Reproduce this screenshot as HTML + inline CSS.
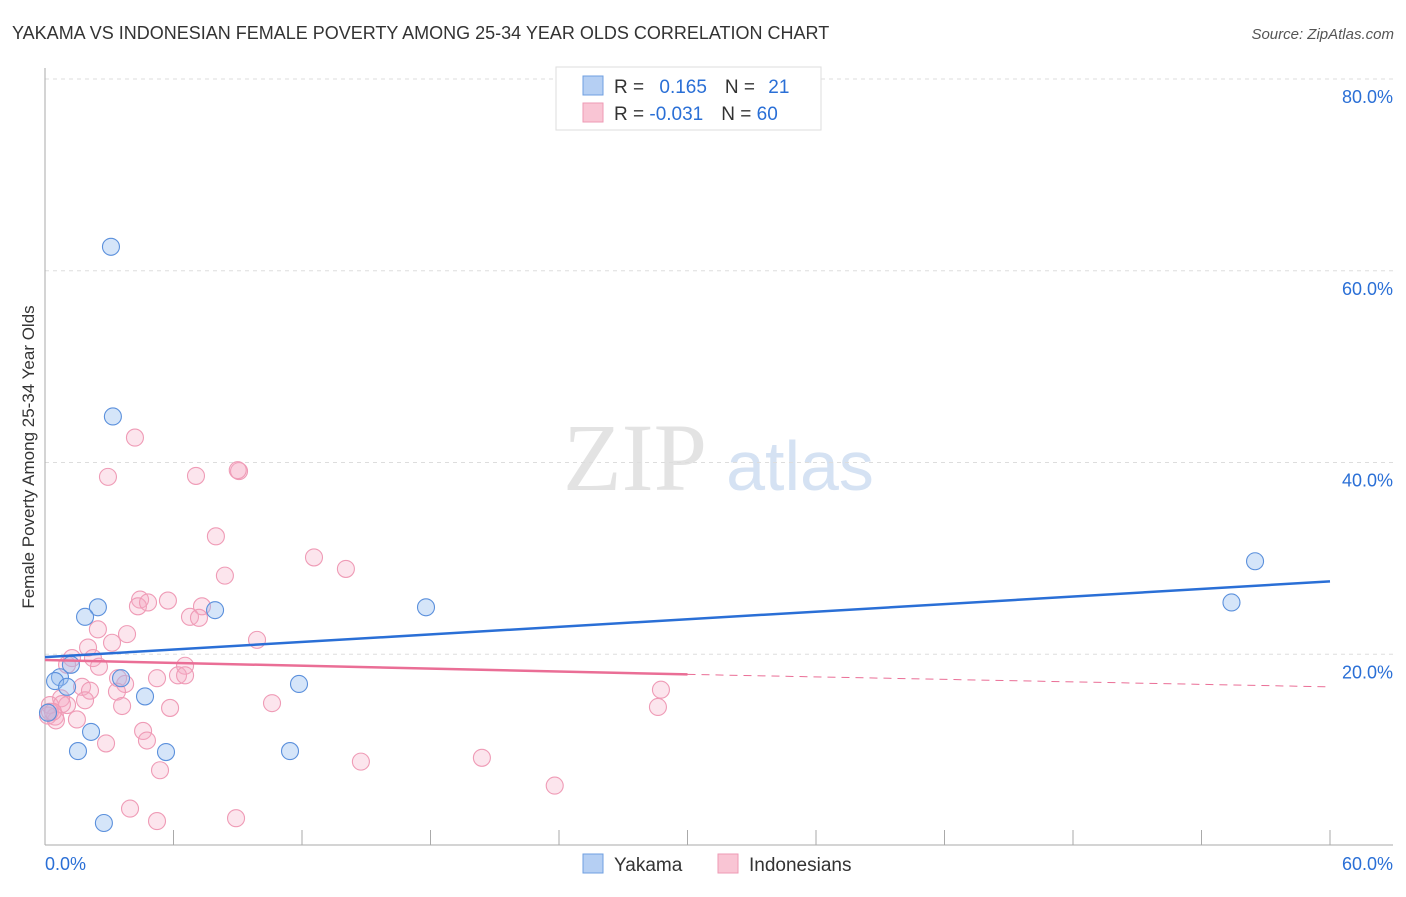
<!DOCTYPE html>
<html><head><meta charset="utf-8"><style>
body{margin:0;background:#fff;font-family:"Liberation Sans",sans-serif;}
svg text{font-family:"Liberation Sans",sans-serif;}
</style></head><body>
<svg width="1406" height="892" xmlns="http://www.w3.org/2000/svg">
<text x="12" y="39" font-size="18" fill="#333">YAKAMA VS INDONESIAN FEMALE POVERTY AMONG 25-34 YEAR OLDS CORRELATION CHART</text>
<text x="1394" y="39" font-size="15" fill="#555" font-style="italic" text-anchor="end">Source: ZipAtlas.com</text>
<text x="635" y="490" font-size="96" fill="#e3e3e3" font-family="Liberation Serif" text-anchor="middle" style="font-family:'Liberation Serif',serif">ZIP</text>
<text x="800" y="490" font-size="70" fill="#d5e2f3" text-anchor="middle">atlas</text>
<g id="grid"></g>
<line x1="45" y1="68" x2="45" y2="845" stroke="#aaa"/>
<line x1="45" y1="845" x2="1393" y2="845" stroke="#aaa"/>
<text transform="translate(34,457) rotate(-90)" font-size="17" fill="#333" text-anchor="middle">Female Poverty Among 25-34 Year Olds</text>
<g id="pts"></g>
<g id="lines"></g>
<g>
<rect x="556" y="67" width="265" height="63" fill="#fff" stroke="#ddd"/>
<rect x="583" y="76" width="20" height="19" fill="#b5cff3" stroke="#6f9fe0"/>
<rect x="583" y="103" width="20" height="19" fill="#f9c5d4" stroke="#ee9ab4"/>
<text x="614" y="93" font-size="19" fill="#333">R = <tspan fill="#2a6fd6" dx="10">0.165</tspan><tspan dx="18" fill="#333">N = </tspan><tspan fill="#2a6fd6" dx="8">21</tspan></text>
<text x="614" y="120" font-size="19" fill="#333">R = <tspan fill="#2a6fd6">-0.031</tspan><tspan dx="18" fill="#333">N = </tspan><tspan fill="#2a6fd6">60</tspan></text>
</g>
<g>
<rect x="583" y="854" width="20" height="19" fill="#b5cff3" stroke="#6f9fe0"/>
<text x="614" y="871" font-size="19" fill="#333">Yakama</text>
<rect x="718" y="854" width="20" height="19" fill="#f9c5d4" stroke="#ee9ab4"/>
<text x="749" y="871" font-size="19" fill="#333">Indonesians</text>
</g>
<text x="45" y="870" font-size="18" fill="#2a6fd6">0.0%</text>
<text x="1393" y="870" font-size="18" fill="#2a6fd6" text-anchor="end">60.0%</text>
</svg>
<script>
const yTicks=[20,40,60,80];
const xTicks=[6,12,18,24,30,36,42,48,54,60];
const blueX=[3.08,3.17,2.47,1.87,7.94,17.79,56.5,55.4,0.70,0.47,1.21,1.03,3.55,4.67,11.86,2.15,1.54,5.65,11.44,2.75,0.14];
const blueY=[62.5,44.8,24.9,23.9,24.6,24.9,29.7,25.4,17.6,17.2,18.9,16.6,17.5,15.6,16.9,11.9,9.9,9.8,9.9,2.4,13.9];
const pinkX=[4.2,2.94,7.05,9.06,9.0,7.98,12.56,14.05,8.4,4.44,4.34,4.81,5.74,7.33,6.77,7.19,2.47,3.83,3.13,9.9,2.01,1.26,2.24,1.03,2.52,6.54,3.41,5.23,6.21,6.54,3.74,1.73,2.1,3.36,0.75,1.87,1.03,3.6,5.84,10.6,0.23,0.79,0.47,1.49,0.14,0.51,28.76,28.62,4.58,4.76,2.85,5.37,14.75,20.4,23.8,3.97,5.23,8.92,0.23,0.37];
const pinkY=[42.6,38.5,38.6,39.1,39.2,32.3,30.1,28.9,28.2,25.7,25.0,25.4,25.6,25.0,23.9,23.8,22.6,22.1,21.2,21.5,20.7,19.6,19.6,18.9,18.7,18.8,17.5,17.5,17.8,17.8,16.9,16.6,16.2,16.1,15.4,15.2,14.7,14.6,14.4,14.9,14.7,14.8,13.5,13.2,13.6,13.1,16.3,14.5,12.0,11.0,10.7,7.9,8.8,9.2,6.3,3.9,2.6,2.9,14.0,14.0];
const blueTrend=[19.7,27.6];
const pinkTrend=[19.4,17.9,16.6];
const pinkSolidEnd=30;
const NS="http://www.w3.org/2000/svg";
function sx(v){return 45+v/60*1285;}
function sy(v){return 846-v*9.5875;}
function mk(t,a,p){const e=document.createElementNS(NS,t);for(const k in a)e.setAttribute(k,a[k]);p.appendChild(e);return e;}
const grid=document.getElementById('grid');
yTicks.forEach(v=>{
  const l=mk('line',{x1:45,x2:1393,y1:sy(v),y2:sy(v),stroke:'#ddd','stroke-dasharray':'4,4'},grid);
  
  
  const t=mk('text',{x:1393,y:sy(v)+24,'font-size':18,fill:'#2a6fd6','text-anchor':'end'},grid);
  t.textContent=v.toFixed(1)+'%';
  
  
});
xTicks.forEach(v=>{
  const l=mk('line',{x1:sx(v),x2:sx(v),y1:830,y2:845,stroke:'#aaa'},grid);
  
  
});
const pts=document.getElementById('pts');
pinkX.forEach((x,i)=>{
  const c=mk('circle',{cx:sx(x),cy:sy(pinkY[i]),r:8.5,fill:'rgba(246,170,194,0.3)',stroke:'#ef9bb6','stroke-width':1.1},pts);
  
  
});
blueX.forEach((x,i)=>{
  const c=mk('circle',{cx:sx(x),cy:sy(blueY[i]),r:8.5,fill:'rgba(150,190,240,0.4)',stroke:'#5b90dc','stroke-width':1.1},pts);
  
  
});
const lines=document.getElementById('lines');
let b=mk('line',{x1:sx(0),y1:sy(blueTrend[0]),x2:sx(60),y2:sy(blueTrend[1]),stroke:'#2a6fd6','stroke-width':2.5},lines);


let p=mk('line',{x1:sx(0),y1:sy(pinkTrend[0]),x2:sx(pinkSolidEnd),y2:sy(pinkTrend[1]),stroke:'#ea6e96','stroke-width':2.5},lines);


let pd=mk('line',{x1:sx(pinkSolidEnd),y1:sy(pinkTrend[1]),x2:sx(60),y2:sy(pinkTrend[2]),stroke:'#ea6e96','stroke-width':1,'stroke-dasharray':'8,6'},lines);


</script>
</body></html>
